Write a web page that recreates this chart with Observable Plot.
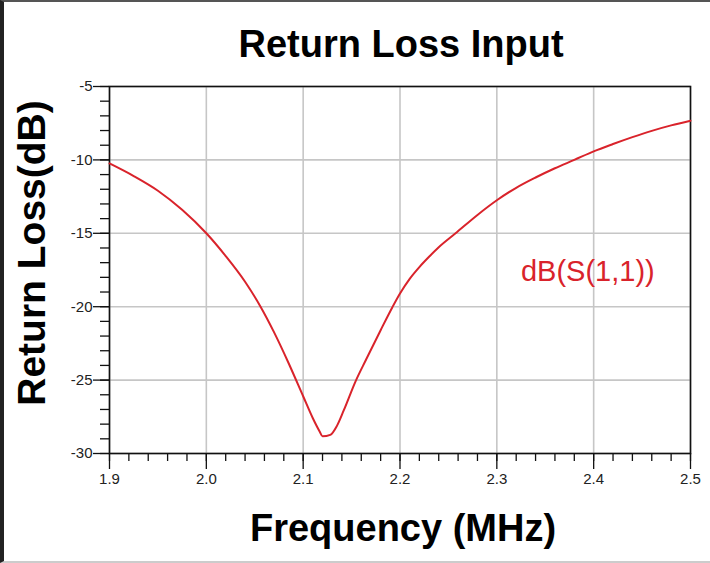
<!DOCTYPE html>
<html>
<head>
<meta charset="utf-8">
<script src="https://cdn.jsdelivr.net/npm/d3@7"></script>
<script src="https://cdn.jsdelivr.net/npm/@observablehq/plot@0.6"></script>
<style>
  html, body { margin: 0; padding: 0; background: #fff; }
  #wrap { position: relative; width: 710px; height: 563px; overflow: hidden; }
  #wrap svg { position: absolute; left: 0; top: 0; }
  #border { position: absolute; left: 0; top: 0; width: 710px; height: 563px; box-sizing: border-box;
            border-top: 2px solid #555; border-left: 4px solid #222; border-bottom: 2px solid #ccc; pointer-events: none; }
</style>
</head>
<body>
<div id="wrap"><div id="border"></div></div>
<script>
// Data (frequency in MHz, return loss in dB)
const freq = [1.9, 1.925, 1.95, 1.975, 2.0, 2.02, 2.04, 2.056, 2.07, 2.085, 2.1, 2.11, 2.117, 2.12, 2.128, 2.135, 2.142, 2.154, 2.165, 2.18, 2.192, 2.2, 2.21, 2.22, 2.23, 2.24, 2.2574, 2.28, 2.3, 2.32, 2.34, 2.36, 2.38, 2.4, 2.42, 2.44, 2.46, 2.48, 2.5];
const s11 = [-10.24, -11.1, -12.1, -13.4, -15.0, -16.55, -18.3, -20.0, -21.75, -23.85, -26.1, -27.6, -28.5, -28.83, -28.73, -28.1, -27.05, -25.1, -23.6, -21.6, -20.05, -19.1, -18.1, -17.3, -16.6, -15.95, -15.0, -13.75, -12.75, -11.9, -11.2, -10.57, -10.0, -9.42, -8.92, -8.45, -8.02, -7.65, -7.33];

const xTicks = [1.9, 2.0, 2.1, 2.2, 2.3, 2.4, 2.5];
const yTicks = [-30, -25, -20, -15, -10, -5];
const xMinor = d3.range(1.9, 2.5001, 0.02);
const yMinor = d3.range(-30, -4.999, 1);

const titleText = "Return Loss Input";
const xLabel = "Frequency (MHz)";
const yLabel = "Return Loss(dB)";
const seriesName = "dB(S(1,1))";
const seriesLabelPos = {x: 2.394, y: -17.6};

const data = freq.map((f, i) => ({f, v: s11[i]}));
const red = "#d9232b";
const fontFam = "'Liberation Sans', Arial, Helvetica, sans-serif";

const chart = Plot.plot({
  width: 710,
  height: 563,
  marginLeft: 109,
  marginRight: 20,
  marginTop: 86,
  marginBottom: 110,
  style: {fontFamily: fontFam, background: "transparent", overflow: "visible"},
  x: {domain: [1.9, 2.5]},
  y: {domain: [-30, -5]},
  marks: [
    Plot.gridX(xTicks, {stroke: "#c6c6c6", strokeOpacity: 1, strokeWidth: 1.6}),
    Plot.gridY(yTicks, {stroke: "#c6c6c6", strokeOpacity: 1, strokeWidth: 1.6}),
    Plot.axisX(xMinor, {tickSize: 8, text: null, label: null, stroke: "#111", strokeWidth: 1.3}),
    Plot.axisY(yMinor, {tickSize: 9, text: null, label: null, stroke: "#111", strokeWidth: 1.3}),
    Plot.axisX(xTicks, {tickSize: 16, tickPadding: 4, tickFormat: d3.format(".1f"), fontSize: 15, fill: "#222", stroke: "#111", strokeWidth: 1.3, label: null}),
    Plot.axisY(yTicks, {tickSize: 16, tickPadding: 1, tickFormat: d => String(d), fontSize: 15, fill: "#222", stroke: "#111", strokeWidth: 1.3, label: null}),
    Plot.frame({stroke: "#111", strokeWidth: 1.6}),
    Plot.line(data, {x: "f", y: "v", stroke: red, strokeWidth: 2, curve: "monotone-x"}),
    Plot.text([seriesName], {x: () => seriesLabelPos.x, y: () => seriesLabelPos.y, text: d => d, fill: red, fontSize: 29, textAnchor: "middle", lineAnchor: "middle"}),
    Plot.text([titleText], {frameAnchor: "top", text: d => d, fontSize: 38, fontWeight: "bold", fill: "#000", lineAnchor: "bottom", dx: 1, dy: -30}),
    Plot.text([xLabel], {frameAnchor: "bottom", text: d => d, fontSize: 38, fontWeight: "bold", fill: "#000", lineAnchor: "bottom", dx: 3, dy: 87}),
    Plot.text([yLabel], {frameAnchor: "left", text: d => d, fontSize: 39, fontWeight: "bold", fill: "#000", rotate: -90, textAnchor: "middle", lineAnchor: "bottom", dx: -65, dy: -17})
  ]
});
document.getElementById("wrap").prepend(chart);
</script>
</body>
</html>
